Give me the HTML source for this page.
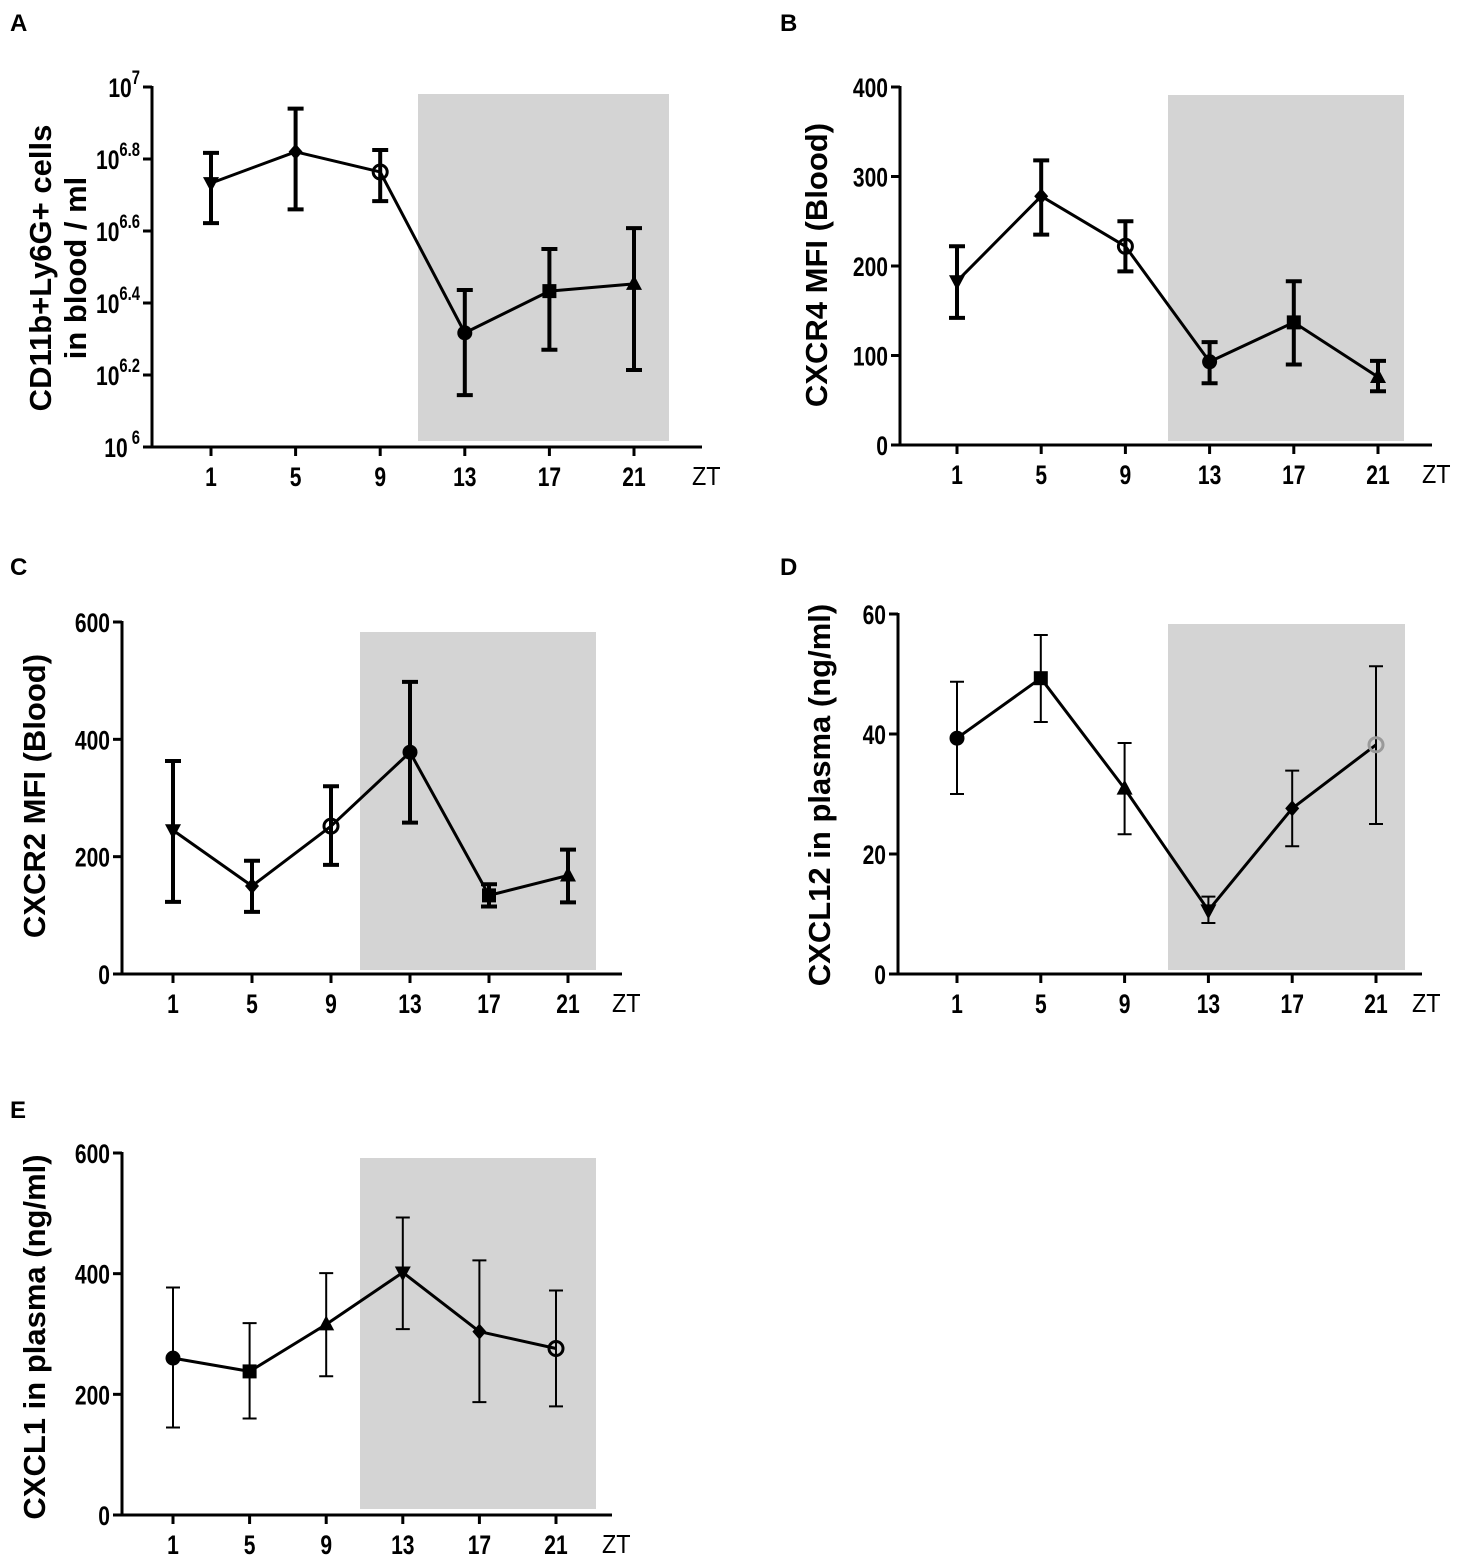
<!DOCTYPE html>
<html><head><meta charset="utf-8"><style>
html,body{margin:0;padding:0;background:#fff;}
svg{display:block;}
.tl{font-family:"Liberation Sans Narrow","Liberation Sans",sans-serif;font-weight:bold;font-size:27px;}
.ti{font-family:"Liberation Sans",sans-serif;font-weight:bold;font-size:31px;}
.pl{font-family:"Liberation Sans",sans-serif;font-weight:bold;font-size:24px;}
.zt{font-family:"Liberation Sans",sans-serif;font-size:26px;}
</style></head><body>
<svg id="fig" width="1459" height="1560" viewBox="0 0 1459 1560" xmlns="http://www.w3.org/2000/svg"></svg>
<script>
const ztCategories = [1, 5, 9, 13, 17, 21];
const markerShapes = ['down','diamond','open','circle','square','up'];
const markerShapesDE = ['circle','square','up','down','diamond','open'];
// Panel A (log10 values)
const aMean = [6.733, 6.82, 6.764, 6.317, 6.433, 6.453];
const aHi = [6.817, 6.94, 6.825, 6.436, 6.55, 6.608];
const aLo = [6.622, 6.66, 6.683, 6.144, 6.27, 6.214];
const aTicks = [6, 6.2, 6.4, 6.6, 6.8, 7];
// Panel B
const bMean = [183, 278, 222, 93, 137, 76];
const bHi = [222, 318, 250, 115, 183, 94];
const bLo = [142, 235, 194, 69, 90, 60];
const bTicks = [0, 100, 200, 300, 400];
// Panel C
const cMean = [245, 150, 252, 378, 134, 168];
const cHi = [363, 193, 320, 498, 153, 212];
const cLo = [123, 106, 186, 258, 115, 122];
const cTicks = [0, 200, 400, 600];
// Panel D
const dMean = [39.3, 49.3, 30.9, 10.6, 27.6, 38.2];
const dHi = [48.7, 56.5, 38.5, 12.9, 33.9, 51.3];
const dLo = [30, 42, 23.3, 8.5, 21.3, 25];
const dTicks = [0, 20, 40, 60];
// Panel E
const eMean = [260, 238, 316, 402, 304, 276];
const eHi = [377, 318, 401, 493, 422, 372];
const eLo = [145, 160, 230, 308, 187, 180];
const eTicks = [0, 200, 400, 600];

const NS = 'http://www.w3.org/2000/svg';
const svg = document.getElementById('fig');
function mk(tag, attrs, parent){
  const e = document.createElementNS(NS, tag);
  for (const k in attrs) e.setAttribute(k, attrs[k]);
  (parent||svg).appendChild(e); return e;
}
const SX = 0.78;

function panel(cfg){
  const g = mk('g', {});
  
  
  const xs = zt => cfg.x1 + (zt - 1) * (cfg.x21 - cfg.x1) / 20;
  const ys = v => cfg.y0 - (v - cfg.vmin) / (cfg.vmax - cfg.vmin) * (cfg.y0 - cfg.yTop);
  const sh = mk('rect', {x: cfg.gx0, y: cfg.gy0, width: cfg.gx1 - cfg.gx0, height: cfg.gy1 - cfg.gy0, fill: '#d4d4d4'}, g);
  
  
  const ya = mk('line', {x1: cfg.x0, y1: cfg.yTop - 1, x2: cfg.x0, y2: cfg.y0 + 1.5, stroke: '#000', 'stroke-width': 3}, g);
  
  
  const xa = mk('line', {x1: cfg.x0 - 1.5, y1: cfg.y0, x2: cfg.xEnd, y2: cfg.y0, stroke: '#000', 'stroke-width': 3}, g);
  
  
  cfg.ticks.forEach(t => {
    const y = ys(t);
    mk('line', {x1: cfg.x0 - 9, y1: y, x2: cfg.x0, y2: y, stroke: '#000', 'stroke-width': 3}, g);
    const tx = mk('text', {x: 0, y: 0, 'text-anchor': 'end', class: 'tl', transform: `translate(${cfg.x0 - 12},${y + 10}) scale(${SX},1)`}, g);
    
    
    if (cfg.log) {
      const exp = (t === 6 || t === 7) ? String(t) : t.toFixed(1);
      const s1 = mk('tspan', {}, tx); s1.textContent = '10';
      const s2 = mk('tspan', {dy: -13, 'font-size': '19px'}, tx); s2.textContent = (t === 6 ? ' ' : '') + exp;
    } else tx.textContent = t;
  });
  ztCategories.forEach(z => {
    const x = xs(z);
    mk('line', {x1: x, y1: cfg.y0, x2: x, y2: cfg.y0 + 9, stroke: '#000', 'stroke-width': 3}, g);
    const tx = mk('text', {x: 0, y: 0, 'text-anchor': 'middle', class: 'tl', transform: `translate(${x},${cfg.y0 + 39}) scale(${SX},1)`}, g);
    
    
    tx.textContent = z;
  });
  const zl = mk('text', {x: 0, y: 0, class: 'zt', transform: `translate(${cfg.xEnd - 10},${cfg.y0 + 38}) scale(0.9,1)`}, g);
  
  
  zl.textContent = 'ZT';
  const ew = cfg.thick ? 4 : 2, cap = cfg.thick ? 8 : 7;
  ztCategories.forEach((z, i) => {
    const x = xs(z), yh = ys(cfg.hi[i]), yl = ys(cfg.lo[i]);
    const eb = mk('path', {d: `M${x},${yh}V${yl}M${x-cap},${yh}H${x+cap}M${x-cap},${yl}H${x+cap}`, stroke: '#000', 'stroke-width': ew, fill: 'none'}, g);
    
    
  });
  const pts = ztCategories.map((z, i) => xs(z) + ',' + ys(cfg.mean[i])).join(' ');
  const pl = mk('polyline', {points: pts, fill: 'none', stroke: '#000', 'stroke-width': 3, 'stroke-linejoin': 'round'}, g);
  
  
  ztCategories.forEach((z, i) => {
    const x = xs(z), y = ys(cfg.mean[i]), s = cfg.shapes[i];
    let m;
    if (s === 'circle') m = mk('circle', {cx: x, cy: y, r: 7.5, fill: '#000'}, g);
    else if (s === 'open') m = mk('circle', {cx: x, cy: y, r: 7, fill: 'none', stroke: cfg.openColor || '#000', 'stroke-width': 3}, g);
    else if (s === 'square') m = mk('rect', {x: x - 7, y: y - 7, width: 14, height: 14, fill: '#000'}, g);
    else if (s === 'diamond') m = mk('path', {d: `M${x},${y-8}L${x+7},${y}L${x},${y+8}L${x-7},${y}Z`, fill: '#000'}, g);
    else if (s === 'up') m = mk('path', {d: `M${x},${y-9}L${x+8},${y+6}L${x-8},${y+6}Z`, fill: '#000'}, g);
    else m = mk('path', {d: `M${x},${y+9}L${x+8},${y-6}L${x-8},${y-6}Z`, fill: '#000'}, g);
    
    
  });
  cfg.title.forEach((t, k) => {
    const tx = mk('text', {x: 0, y: 0, 'text-anchor': 'middle', class: 'ti', transform: `translate(${cfg.tx[k]},${cfg.ty}) rotate(-90)`}, g);
    
    
    tx.textContent = t;
  });
  const lt = mk('text', {x: cfg.lx, y: cfg.ly, class: 'pl'}, g);
  
  
  lt.textContent = cfg.id;
}

panel({id:'A', log:true, x0:152, y0:447, yTop:87, xEnd:702, x1:211, x21:634, vmin:6, vmax:7, ticks:aTicks,
  gx0:418, gx1:669, gy0:94, gy1:441, mean:aMean, hi:aHi, lo:aLo, shapes:markerShapes, thick:true,
  title:['CD11b+Ly6G+ cells','in blood / ml'], tx:[51,86], ty:268, lx:10, ly:31});
panel({id:'B', x0:900, y0:445, yTop:87, xEnd:1432, x1:957, x21:1378, vmin:0, vmax:400, ticks:bTicks,
  gx0:1168, gx1:1404, gy0:95, gy1:441, mean:bMean, hi:bHi, lo:bLo, shapes:markerShapes, thick:true,
  title:['CXCR4 MFI (Blood)'], tx:[827], ty:265, lx:780, ly:31});
panel({id:'C', x0:122, y0:974, yTop:622, xEnd:622, x1:173, x21:568, vmin:0, vmax:600, ticks:cTicks,
  gx0:360, gx1:596, gy0:632, gy1:970, mean:cMean, hi:cHi, lo:cLo, shapes:markerShapes, thick:true,
  title:['CXCR2 MFI (Blood)'], tx:[45], ty:796, lx:10, ly:575});
panel({id:'D', x0:898, y0:974, yTop:614, xEnd:1422, x1:957, x21:1376, vmin:0, vmax:60, ticks:dTicks,
  gx0:1168, gx1:1405, gy0:624, gy1:970, mean:dMean, hi:dHi, lo:dLo, shapes:markerShapesDE, thick:false, openColor:'#999',
  title:['CXCL12 in plasma (ng/ml)'], tx:[830], ty:795, lx:780, ly:575});
panel({id:'E', x0:122, y0:1515, yTop:1153, xEnd:612, x1:173, x21:556, vmin:0, vmax:600, ticks:eTicks,
  gx0:360, gx1:596, gy0:1158, gy1:1509, mean:eMean, hi:eHi, lo:eLo, shapes:markerShapesDE, thick:false,
  title:['CXCL1 in plasma (ng/ml)'], tx:[45], ty:1337, lx:10, ly:1118});
</script>
</body></html>
